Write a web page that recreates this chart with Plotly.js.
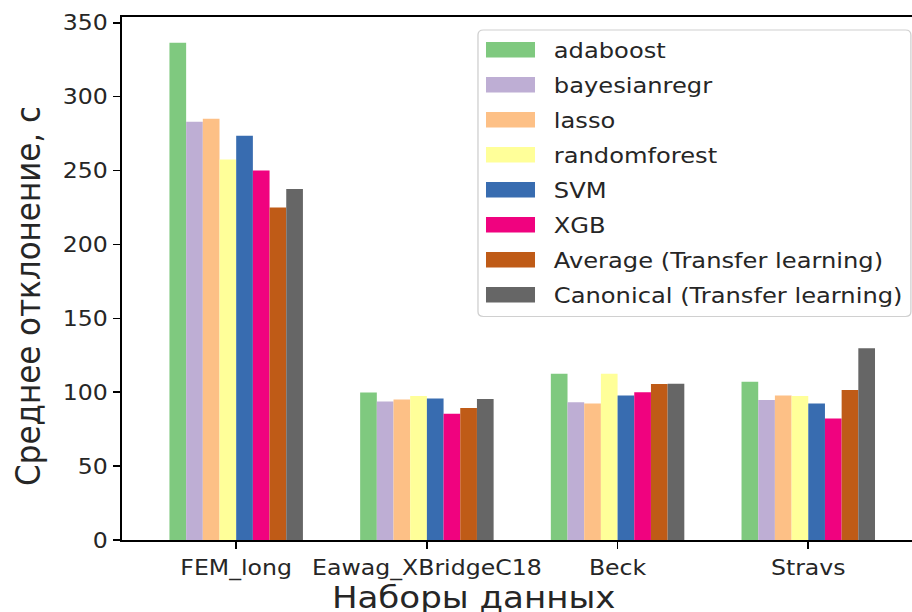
<!DOCTYPE html>
<html>
<head>
<meta charset="utf-8">
<script src="https://cdn.plot.ly/plotly-3.0.1.min.js"></script>
<style>
  html, body { margin: 0; padding: 0; background: #ffffff; overflow: hidden; }
  #wrap { width: 912px; height: 612px; overflow: hidden; }
  /* the figure is laid out on a narrower canvas and widened to the window */
  #chart { width: 830px; height: 612px; transform: scaleX(1.0988); transform-origin: 0 0; }
</style>
</head>
<body>
<div id="wrap"><div id="chart"></div></div>
<script>
// Datasets on the x axis
const categories = ['FEM_long', 'Eawag_XBridgeC18', 'Beck', 'Stravs'];

// Mean deviation (s) per model, one value per dataset
const adaboost     = [336.5, 99.8, 112.5, 107.0];
const bayesianregr = [283.0, 93.8, 93.2, 94.8];
const lasso        = [285.0, 95.0, 92.3, 97.7];
const randomforest = [257.5, 97.5, 112.5, 97.5];
const svm          = [273.5, 95.7, 97.7, 92.3];
const xgb          = [250.0, 85.4, 100.0, 82.2];
const average      = [225.0, 89.3, 105.5, 101.5];
const canonical    = [237.5, 95.4, 105.7, 129.8];

const seriesNames = ['adaboost', 'bayesianregr', 'lasso', 'randomforest', 'SVM', 'XGB',
                     'Average (Transfer learning)', 'Canonical (Transfer learning)'];
const seriesValues = [adaboost, bayesianregr, lasso, randomforest, svm, xgb, average, canonical];
const yTicks = [0, 50, 100, 150, 200, 250, 300, 350];

// matplotlib "Accent" palette
const colors = ['#7fc97f', '#beaed4', '#fdc086', '#ffff99', '#386cb0', '#f0027f', '#bf5b17', '#666666'];

const FONT = 'DejaVu Sans, Liberation Sans, sans-serif';
const TEXT = '#262626';

// plot area in canvas pixels
const M = { l: 111, r: 0, t: 17, b: 72 };
const W = 830, H = 612;
const PL = M.l, PR = W - M.r, PT = M.t, PB = H - M.b;
const px = x => (x - PL) / (PR - PL);
const py = y => (PB - y) / (PB - PT);

const traces = seriesNames.map((name, i) => ({
  type: 'bar',
  name: name,
  x: categories,
  y: seriesValues[i],
  marker: { color: colors[i], line: { width: 0 } },
  hoverinfo: 'skip',
  showlegend: false
}));

// legend frame and entries
const LEG = { x0: 435, x1: 829, y0: 30, y1: 316.5, r: 5 };
function roundRect(b) {
  const { x0, x1, y0, y1, r } = b;
  return `M${px(x0 + r)},${py(y0)} L${px(x1 - r)},${py(y0)} Q${px(x1)},${py(y0)} ${px(x1)},${py(y0 + r)} ` +
         `L${px(x1)},${py(y1 - r)} Q${px(x1)},${py(y1)} ${px(x1 - r)},${py(y1)} ` +
         `L${px(x0 + r)},${py(y1)} Q${px(x0)},${py(y1)} ${px(x0)},${py(y1 - r)} ` +
         `L${px(x0)},${py(y0 + r)} Q${px(x0)},${py(y0)} ${px(x0 + r)},${py(y0)} Z`;
}
const shapes = [{
  type: 'path', xref: 'paper', yref: 'paper', path: roundRect(LEG),
  fillcolor: 'rgba(255,255,255,0.8)', line: { color: '#d0d0d0', width: 1.2 }, layer: 'above'
}];
const annotations = [];
const rowStart = 49.7, rowStep = 35, patchX0 = 442.3, patchX1 = 486.9, patchH = 15.5, textX = 501.8;
seriesNames.forEach((name, i) => {
  const cy = rowStart + i * rowStep;
  shapes.push({
    type: 'rect', xref: 'paper', yref: 'paper',
    x0: px(patchX0), x1: px(patchX1), y0: py(cy + patchH / 2), y1: py(cy - patchH / 2),
    fillcolor: colors[i], line: { width: 0 }, layer: 'above'
  });
  annotations.push({
    xref: 'paper', yref: 'paper', x: px(textX), y: py(cy + 0.5), xanchor: 'left', yanchor: 'middle',
    text: name, showarrow: false, font: { family: FONT, size: 22, color: TEXT }
  });
});

// axis titles
annotations.push({
  xref: 'paper', yref: 'paper', x: px(431), y: py(597), xanchor: 'center', yanchor: 'middle',
  text: 'Наборы данных', showarrow: false, font: { family: FONT, size: 31, color: TEXT }
});
annotations.push({
  xref: 'paper', yref: 'paper', x: px(24.5), y: py(296.5), xanchor: 'center', yanchor: 'middle',
  text: 'Среднее отклонение, с', textangle: -90, showarrow: false,
  font: { family: FONT, size: 31, color: TEXT }
});

const layout = {
  width: W, height: H, autosize: false,
  margin: M,
  paper_bgcolor: '#ffffff', plot_bgcolor: '#ffffff',
  barmode: 'group', bargap: 0.3, bargroupgap: 0,
  showlegend: false,
  font: { family: FONT, size: 21, color: TEXT },
  xaxis: {
    type: 'category', range: [-0.599, 3.544],
    showline: true, linecolor: '#000000', linewidth: 1.6, mirror: true,
    ticks: 'outside', ticklen: 7.5, tickwidth: 1.6, tickcolor: '#000000',
    showgrid: false, zeroline: false,
    tickfont: { family: FONT, size: 21.5, color: TEXT }
  },
  yaxis: {
    range: [0, 353.9], tickmode: 'array', tickvals: yTicks, ticktext: yTicks.map(String),
    showline: true, linecolor: '#000000', linewidth: 1.6, mirror: false,
    ticks: 'outside', ticklen: 7, tickwidth: 1.6, tickcolor: '#000000',
    showgrid: false, zeroline: false,
    tickfont: { family: FONT, size: 21.5, color: TEXT }
  },
  shapes: shapes,
  annotations: annotations
};

Plotly.newPlot('chart', traces, layout, { displayModeBar: false, staticPlot: true });
</script>
</body>
</html>
